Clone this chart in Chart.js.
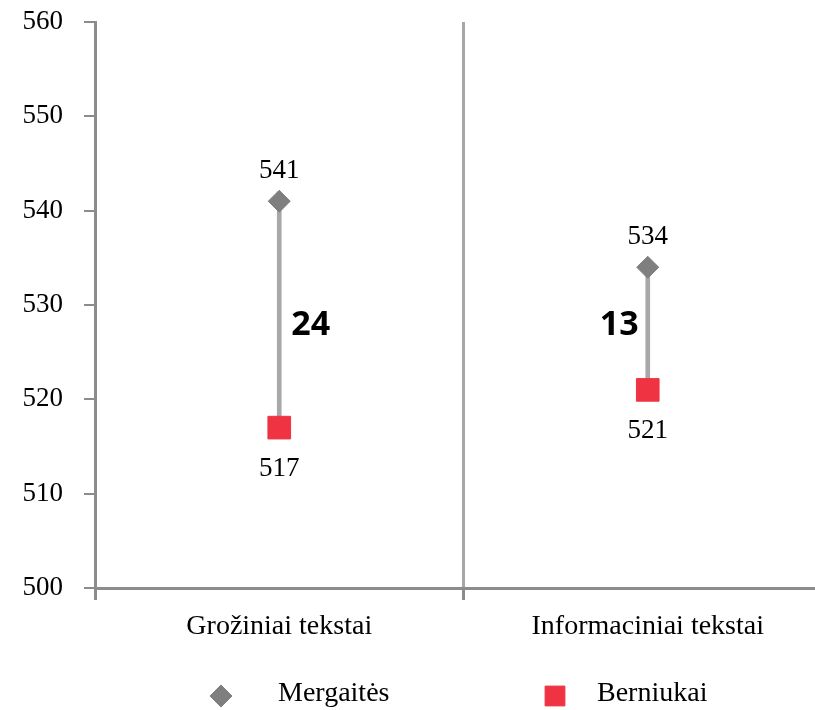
<!DOCTYPE html>
<html>
<head>
<meta charset="utf-8">
<script src="https://cdn.jsdelivr.net/npm/chart.js@4.4.1/dist/chart.umd.min.js"></script>
<style>
    html, body { margin: 0; padding: 0; background: #ffffff; overflow: hidden; }
    #wrap { width: 849px; height: 710px; }
</style>
</head>
<body>
<div id="wrap"><canvas id="gapChart" width="849" height="710"></canvas></div>
<script>
// Reading scores by text type
const categories = ['Grožiniai tekstai', 'Informaciniai tekstai'];
const seriesNames = ['Mergaitės', 'Berniukai'];
const girls = [541, 534];
const boys = [517, 521];
const yTicks = [500, 510, 520, 530, 540, 550, 560];

const SERIF = '"Liberation Serif", "DejaVu Serif", serif';
const GRAY = '#7f7f7f';
const RED = '#ef3343';
const AXIS = '#8c8c8c';

// gap label goes right of the first line, left of the second
const gapSide = [1, -1];
const gapShiftY = [11, -3];

// Value labels and gap numbers next to the points
const pointLabels = {
    id: 'pointLabels',
    afterDatasetsDraw(chart) {
        const ctx = chart.ctx;
        const yScale = chart.scales.y;
        const top = chart.getDatasetMeta(0).data;
        const bottom = chart.getDatasetMeta(1).data;

        ctx.save();
        ctx.fillStyle = '#000000';
        ctx.textAlign = 'center';
        ctx.textBaseline = 'middle';
        ctx.font = '27px ' + SERIF;
        top.forEach((pt, i) => ctx.fillText(String(girls[i]), pt.x, pt.y - 30));
        bottom.forEach((pt, i) => ctx.fillText(String(boys[i]), pt.x, pt.y + 41));

        ctx.font = 'bold 34px "Open Sans", "DejaVu Sans", sans-serif';
        top.forEach((pt, i) => {
            const gap = girls[i] - boys[i];
            const y = yScale.getPixelForValue((girls[i] + boys[i]) / 2) + gapShiftY[i];
            if (gapSide[i] > 0) {
                ctx.textAlign = 'left';
                ctx.fillText(String(gap), pt.x + 12, y);
            } else {
                ctx.textAlign = 'right';
                ctx.fillText(String(gap), pt.x - 9, y);
            }
        });
        ctx.restore();
    }
};

// Legend row under the axis labels
const legendRow = {
    id: 'legendRow',
    afterDraw(chart) {
        const ctx = chart.ctx;
        const markerX = [221, 555];
        const textX = [278, 597];
        const y = 696;
        ctx.save();
        [0, 1].forEach(i => {
            const ds = chart.data.datasets[i];
            const radius = i === 0 ? 11 : 14;
            if (Chart.helpers && Chart.helpers.drawPoint) {
                ctx.fillStyle = ds.pointBackgroundColor;
                ctx.strokeStyle = ds.pointBorderColor;
                ctx.lineWidth = 1;
                Chart.helpers.drawPoint(ctx, { pointStyle: ds.pointStyle, radius: radius, borderWidth: 1 }, markerX[i], y);
            }
            ctx.fillStyle = '#000000';
            ctx.textAlign = 'left';
            ctx.textBaseline = 'middle';
            ctx.font = '28px ' + SERIF;
            ctx.fillText(seriesNames[i], textX[i], y - 2);
        });
        ctx.restore();
    }
};

const ctx = document.getElementById('gapChart');

new Chart(ctx, {
    data: {
        labels: categories,
        datasets: [{
            type: 'line',
            label: seriesNames[0],
            data: girls,
            showLine: false,
            pointStyle: 'rectRot',
            pointRadius: 11,
            pointHoverRadius: 11,
            pointBackgroundColor: GRAY,
            pointBorderColor: GRAY,
            pointBorderWidth: 1,
            backgroundColor: GRAY,
            borderColor: GRAY,
            order: 1
        }, {
            type: 'line',
            label: seriesNames[1],
            data: boys,
            showLine: false,
            pointStyle: 'rect',
            pointRadius: 16,
            pointHoverRadius: 16,
            pointBackgroundColor: RED,
            pointBorderColor: RED,
            pointBorderWidth: 1,
            backgroundColor: RED,
            borderColor: RED,
            order: 2
        }, {
            type: 'bar',
            label: 'gap',
            data: categories.map((c, i) => [boys[i], girls[i]]),
            backgroundColor: '#a8a8aa',
            barThickness: 4,
            order: 3
        }]
    },
    options: {
        responsive: false,
        animation: false,
        layout: {
            padding: { top: 0, left: 0, right: 8, bottom: 0 }
        },
        plugins: {
            legend: { display: false },
            tooltip: { enabled: false }
        },
        scales: {
            x: {
                offset: true,
                grid: {
                    offset: true,
                    color: '#a6a6a6',
                    lineWidth: 3,
                    tickLength: 12,
                    tickColor: AXIS
                },
                border: { color: AXIS, width: 3 },
                ticks: {
                    color: '#000000',
                    padding: 10,
                    font: { family: SERIF, size: 28 }
                },
                afterFit(scale) {
                    scale.height = 122;
                }
            },
            y: {
                min: 500,
                max: 560,
                afterBuildTicks(scale) {
                    scale.ticks = yTicks.map(v => ({ value: v }));
                },
                grid: {
                    drawOnChartArea: false,
                    tickLength: 11,
                    tickColor: AXIS,
                    lineWidth: 2
                },
                border: { color: AXIS, width: 3 },
                ticks: {
                    color: '#000000',
                    padding: 21,
                    font: { family: SERIF, size: 27 }
                },
                afterFit(scale) {
                    scale.width = 95;
                    scale.paddingTop = 22;
                    scale.paddingBottom = 0;
                }
            }
        }
    },
    plugins: [pointLabels, legendRow]
});
</script>
</body>
</html>
